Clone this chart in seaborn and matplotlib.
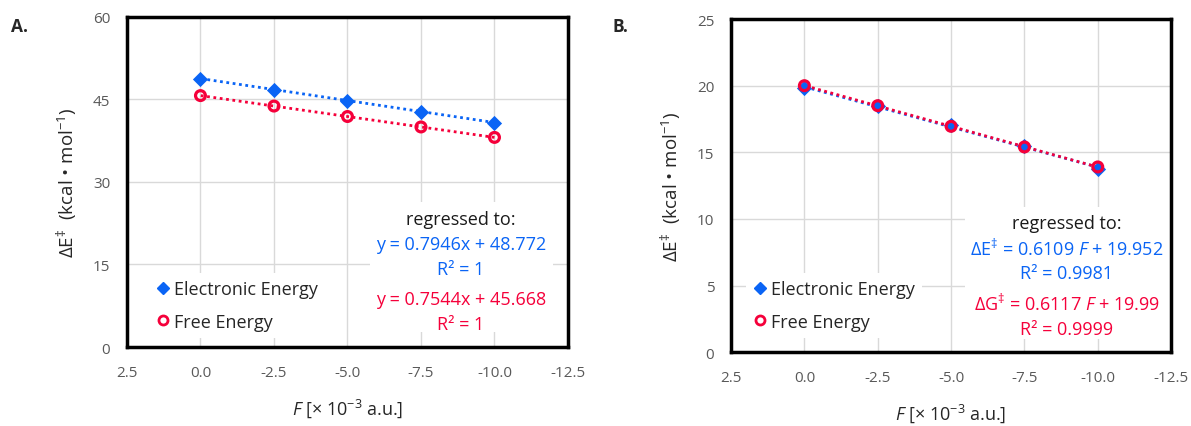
import numpy as np
import pandas as pd
import seaborn as sns
import matplotlib.pyplot as plt
from matplotlib.patches import Rectangle
from matplotlib.lines import Line2D

# dados
campo = [0.0, -2.5, -5.0, -7.5, -10.0]
eletr_a = [48.8, 46.8, 44.8, 42.8, 40.8]
livre_a = [45.7, 43.8, 41.9, 40.0, 38.1]
eletr_b = [19.8, 18.45, 17.05, 15.45, 13.75]
livre_b = [20.0, 18.5, 16.95, 15.4, 13.9]

xticks = [2.5, 0.0, -2.5, -5.0, -7.5, -10.0, -12.5]
yticks_a = [0, 15, 30, 45, 60]
yticks_b = [0, 5, 10, 15, 20, 25]

texto_a = ["regressed to:", "y = 0.7946x + 48.772", "R² = 1", "y = 0.7544x + 45.668", "R² = 1"]
texto_b = ["regressed to:", r"$\mathregular{ΔE^{‡}}$ = 0.6109 $\it{F}$ + 19.952", "R² = 0.9981",
           r"$\mathregular{ΔG^{‡}}$ = 0.6117 $\it{F}$ + 19.99", "R² = 0.9999"]

azul = "#0A64F5"
vermelho = "#F5003A"

sns.set_theme(style="white")
plt.rcParams['font.family'] = ['Open Sans', 'DejaVu Sans']
plt.rcParams['mathtext.fontset'] = 'custom'
plt.rcParams['mathtext.rm'] = 'Open Sans'
plt.rcParams['mathtext.it'] = 'Open Sans:italic'

fig = plt.figure(figsize=(11.91, 4.27), dpi=100)
ax_a = fig.add_axes([0.1066, 0.185, 0.3703, 0.773])
ax_b = fig.add_axes([0.6138, 0.173, 0.3695, 0.780])


def painel(ax, eletr, livre, yticks, textos, pos_txt, caixa, pos_leg):
    df = pd.DataFrame({'F': campo, 'E': eletr, 'G': livre})
    ax.set_axisbelow(True)
    ax.grid(True, color="#d9d9d9", lw=1)

    # linhas de tendencia
    for col, cor, z in [('E', azul, 2), ('G', vermelho, 2.1)]:
        a, b = np.polyfit(df['F'], df[col], 1)
        df['fit_' + col] = a * df['F'] + b
        sns.lineplot(data=df, x='F', y='fit_' + col, ax=ax, color=cor, lw=2,
                     linestyle=(0, (1, 1.3)), zorder=z)

    sns.scatterplot(data=df, x='F', y='E', ax=ax, marker='D', s=60, color=azul,
                    edgecolor=azul, linewidth=0, zorder=3)
    sns.scatterplot(data=df, x='F', y='G', ax=ax, marker='o', s=50, facecolor='none',
                    edgecolor=vermelho, linewidth=2.3, zorder=4)

    ax.set_xlim(2.5, -12.5)
    ax.set_xticks(xticks)
    ax.set_xticklabels([f"{v:.1f}" for v in xticks])
    ax.set_ylim(yticks[0], yticks[-1])
    ax.set_yticks(yticks)
    ax.tick_params(axis='both', length=0, labelsize=11, labelcolor="#595959")
    ax.tick_params(axis='x', pad=13)
    ax.tick_params(axis='y', pad=12)
    for s in ax.spines.values():
        s.set_visible(True)
        s.set_color('black')
        s.set_linewidth(2.5)

    ax.set_xlabel(r"$\it{F}$ [× 10$^{\mathregular{-3}}$ a.u.]", fontsize=13, labelpad=12)
    ax.set_ylabel(r"$\mathregular{ΔE^{‡}}$  (kcal • mol$^{\mathregular{-1}}$)", fontsize=13.5, labelpad=10)

    ax.add_patch(Rectangle((caixa[0], caixa[1]), caixa[2], caixa[3], transform=ax.transAxes,
                           facecolor='white', edgecolor='none', zorder=1))
    cores = ['#1a1a1a', azul, azul, vermelho, vermelho]
    for t, c, y in zip(textos, cores, pos_txt[1]):
        ax.text(pos_txt[0], y, t, color=c, fontsize=13, ha='center', va='center',
                transform=ax.transAxes, zorder=5)

    hs = [Line2D([], [], marker='D', color=azul, ls='none', markersize=6),
          Line2D([], [], marker='o', color=vermelho, mfc='white', mew=2, ls='none', markersize=6.5)]
    leg = ax.legend(hs, ["Electronic Energy", "Free Energy"], loc='center left',
                    bbox_to_anchor=pos_leg, fontsize=13, frameon=True, framealpha=1,
                    edgecolor='none', facecolor='white', labelspacing=0.8, handletextpad=0.2,
                    handlelength=0.8, borderaxespad=0, borderpad=0.4)
    leg.set_zorder(5)


painel(ax_a, eletr_a, livre_a, yticks_a, texto_a,
       (0.757, [0.388, 0.312, 0.236, 0.145, 0.070]), (0.551, 0.045, 0.415, 0.394), (0.0495, 0.126))
painel(ax_b, eletr_b, livre_b, yticks_b, texto_b,
       (0.763, [0.387, 0.312, 0.237, 0.147, 0.069]), (0.531, 0.039, 0.469, 0.396), (0.034, 0.140))

fig.text(0.009, 0.925, "A.", fontsize=12.5, fontweight='bold')
fig.text(0.514, 0.925, "B.", fontsize=12.5, fontweight='bold')

plt.savefig('out.png', dpi=100)
